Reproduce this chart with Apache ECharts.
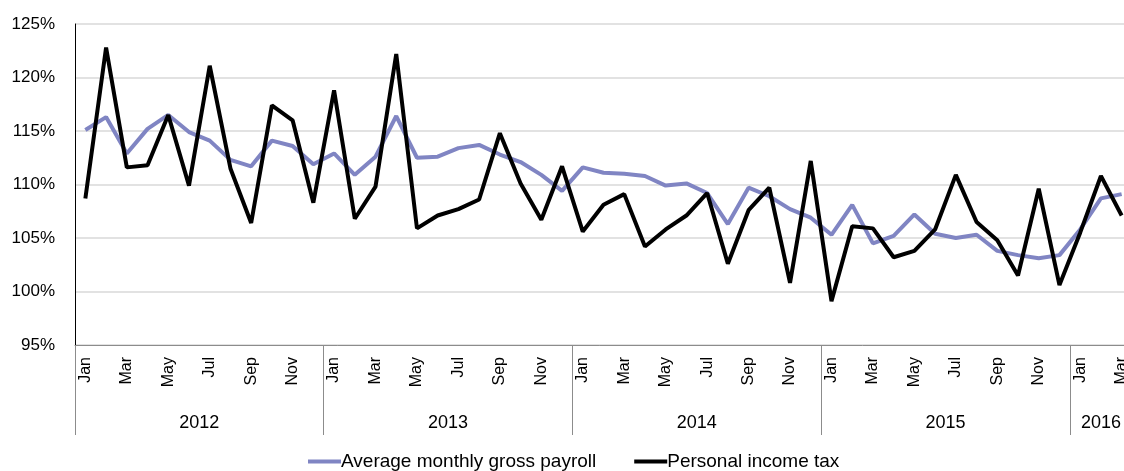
<!DOCTYPE html>
<html>
<head>
<meta charset="utf-8">
<script src="https://cdn.jsdelivr.net/npm/echarts@6/dist/echarts.min.js"></script>
<style>
  html, body { margin: 0; padding: 0; background: #fff; }
  #chart { width: 1124px; height: 471px; }
</style>
</head>
<body>
<div id="chart"></div>
<script>
// month labels, Jan 2012 .. Mar 2016
const monthNames = ['Jan', 'Feb', 'Mar', 'Apr', 'May', 'Jun', 'Jul', 'Aug', 'Sep', 'Oct', 'Nov', 'Dec'];
const years = ['2012', '2013', '2014', '2015', '2016'];
const monthsPerYear = [12, 12, 12, 12, 3];

const payroll = [
  115.1, 116.3, 112.9, 115.2, 116.5, 114.9, 114.1, 112.3, 111.7, 114.1, 113.6, 111.9,
  112.9, 110.9, 112.6, 116.4, 112.5, 112.6, 113.4, 113.7, 112.8, 112.1, 110.9, 109.4,
  111.6, 111.1, 111.0, 110.8, 109.9, 110.1, 109.2, 106.3, 109.7, 108.9, 107.7, 106.9,
  105.3, 108.1, 104.5, 105.2, 107.2, 105.4, 105.0, 105.3, 103.8, 103.4, 103.1, 103.4,
  105.8, 108.7, 109.1
];

const incomeTax = [
  108.7, 122.8, 111.6, 111.8, 116.5, 109.9, 121.1, 111.5, 106.4, 117.4, 116.0, 108.3,
  118.8, 106.8, 109.8, 122.2, 105.9, 107.1, 107.7, 108.6, 114.8, 110.1, 106.7, 111.7,
  105.6, 108.1, 109.1, 104.2, 105.8, 107.1, 109.2, 102.6, 107.6, 109.7, 100.8, 112.2,
  99.1, 106.1, 105.9, 103.2, 103.8, 105.8, 110.9, 106.5, 104.8, 101.5, 109.6, 100.6,
  105.5, 110.8, 107.1
];

const yTicks = { min: 95, max: 125, step: 5 };

// build month categories and the centre of each year group
let months = [];
let yearCentres = [];
let start = 0;
monthsPerYear.forEach((n, i) => {
  for (let m = 0; m < n; m++) {
    months.push(monthNames[m]);
  }
  yearCentres.push({ pos: start + n / 2, label: years[i] });
  start += n;
});
const total = months.length;

const font = 'Liberation Sans';
const textColor = '#000';

const chart = echarts.init(document.getElementById('chart'));

chart.setOption({
  animation: false,
  backgroundColor: '#fff',
  grid: {
    left: 75,
    top: 24,
    bottom: 126,
    right: -8,
    outerBoundsMode: 'none', // the plot runs past the right edge, like the original
  },
  legend: {
    top: 452,
    left: 308,
    padding: 0,
    itemGap: 38,
    itemWidth: 33,
    itemHeight: 4,
    icon: 'rect',
    textStyle: {
      fontFamily: font,
      fontSize: 19,
      color: textColor,
      padding: [0, 0, 0, -5],
    },
    data: ['Average monthly gross payroll', 'Personal income tax'],
  },
  xAxis: [
    {
      // month row
      type: 'category',
      data: months,
      position: 'bottom',
      axisLine: { show: true, lineStyle: { color: '#8c8c8c', width: 1 } },
      axisTick: { show: false },
      axisLabel: {
        interval: 1,
        rotate: 90,
        margin: 12,
        fontFamily: font,
        fontSize: 16,
        color: textColor,
      },
      splitLine: { show: false },
    },
    {
      // year dividers
      type: 'value',
      min: 0,
      max: total,
      interval: 12,
      position: 'bottom',
      axisLine: { show: false },
      axisTick: { show: true, length: 90, lineStyle: { color: '#8c8c8c', width: 1 } },
      axisLabel: { show: false },
      splitLine: { show: false },
    },
    {
      // year labels
      type: 'value',
      min: 0,
      max: total,
      interval: 1.5,
      position: 'bottom',
      axisLine: { show: false },
      axisTick: { show: false },
      splitLine: { show: false },
      axisLabel: {
        margin: 69,
        fontFamily: font,
        fontSize: 18,
        color: textColor,
        formatter: (v) => {
          const hit = yearCentres.find(c => Math.abs(c.pos - v) < 0.01);
          return hit ? hit.label : '';
        },
      },
    },
  ],
  yAxis: {
    type: 'value',
    min: yTicks.min,
    max: yTicks.max,
    interval: yTicks.step,
    axisLine: { show: true, lineStyle: { color: '#000', width: 1 } },
    axisTick: { show: false },
    axisLabel: {
      margin: 20,
      fontFamily: font,
      fontSize: 17,
      color: textColor,
      formatter: '{value}%',
    },
    splitLine: { lineStyle: { color: '#d9d9d9', width: 1.5 } },
  },
  series: [
    {
      name: 'Average monthly gross payroll',
      type: 'line',
      data: payroll,
      symbol: 'none',
      color: '#8085c3',
      lineStyle: { width: 4, color: '#8085c3' },
    },
    {
      name: 'Personal income tax',
      type: 'line',
      data: incomeTax,
      symbol: 'none',
      color: '#000',
      lineStyle: { width: 4, color: '#000' },
    },
  ],
});
</script>
</body>
</html>
